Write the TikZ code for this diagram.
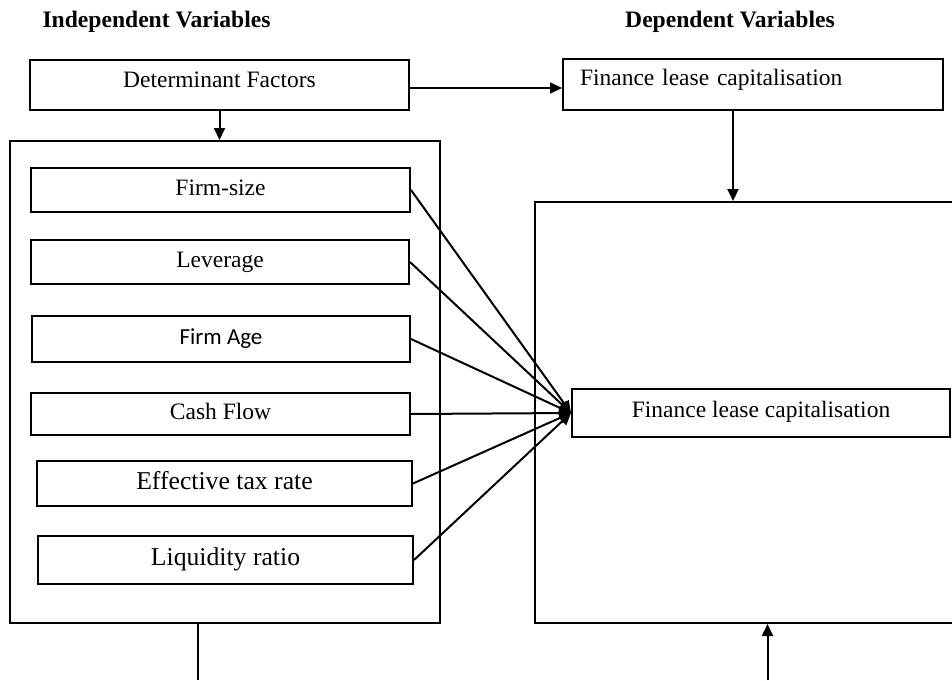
\documentclass[tikz,border=0pt]{standalone}
\usepackage{fontspec}
\setmainfont{Liberation Serif}
\newfontfamily\calibrifont{Carlito}
\usetikzlibrary{arrows.meta}
\tikzset{
  box/.style={draw, line width=2pt, inner sep=0pt, text height=16pt, text depth=5pt, font=\fontsize{23.5}{28}\selectfont},
  frame/.style={draw, line width=2pt, inner sep=0pt},
  conn/.style={line width=2pt},
  arr/.style={line width=2pt, -{Triangle[length=12pt,width=11pt]}},
  title/.style={font=\fontsize{23.6}{28}\bfseries\selectfont, inner sep=0pt}
}
\begin{document}
\begin{tikzpicture}[x=1pt,y=-1pt]
\useasboundingbox (0,0) rectangle (952,680);
\clip (0,0) rectangle (952,680);
% titles
\node[title] (t1) at (156.5,22) {Independent Variables};
\node[title] (t2) at (730,22) {Dependent Variables};
% top row
\node[box, minimum width=379pt, minimum height=50pt, text depth=12pt] (det) at (219.5,85) {Determinant Factors};
\node[box, minimum width=380pt, minimum height=51pt, text width=346pt, inner xsep=17pt, align=left, text depth=15pt] (fin1) at (753,84.5) {Finance lease capitalisation};
% left outer frame
\node[frame, minimum width=430pt, minimum height=482pt] (indep) at (225,382) {};
\node[box, minimum width=379pt, minimum height=44pt] (fs) at (220.5,190) {Firm-size};
\node[box, minimum width=378pt, minimum height=44pt] (lev) at (220,262) {Leverage};
\node[box, minimum width=378pt, minimum height=46pt, font=\calibrifont\fontsize{23}{28}\selectfont] (age) at (221,339) {Firm Age};
\node[box, minimum width=379pt, minimum height=42pt] (cf) at (220.5,414) {Cash Flow};
\node[box, minimum width=375pt, minimum height=45pt, font=\fontsize{25.7}{30}\selectfont, text depth=4pt] (etr) at (224.5,483.5) {Effective tax rate};
\node[box, minimum width=375pt, minimum height=48pt, font=\fontsize{25.7}{30}\selectfont, text depth=5pt] (liq) at (225.5,560) {Liquidity ratio};
% right frame (extends beyond the right edge)
\node[frame, minimum width=465pt, minimum height=421pt] (dep) at (767.5,412.5) {};
\node[box, minimum width=378pt, minimum height=48pt, text depth=8pt] (fin2) at (761,413) {Finance lease capitalisation};
% connectors
\draw[arr] ([yshift=-3pt]det.east) -- ([yshift=-3pt]det.east -| fin1.west);
\draw[arr] (det.south) -- (det.south |- indep.north);
\draw[arr] ([xshift=-20pt]fin1.south) -- ([xshift=-20pt]fin1.south |- dep.north);
\foreach \n in {fs,lev,age,cf,etr,liq}{
  \draw[arr] (\n.east) -- (fin2.west);
}
\coordinate (b1) at (198,680);
\coordinate (b2) at (767.5,680);
\draw[conn] (b1 |- indep.south) -- (b1);
\draw[arr] (b2) -- (dep.south);
\end{tikzpicture}
\end{document}
